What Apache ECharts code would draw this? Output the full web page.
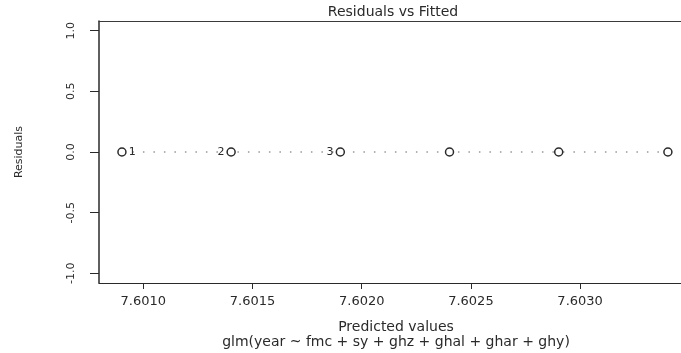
<!DOCTYPE html>
<html>
<head>
<meta charset="utf-8">
<script src="https://cdn.jsdelivr.net/npm/echarts@6/dist/echarts.min.js"></script>
<style>
  html, body { margin: 0; padding: 0; background: #fff; }
  #chart { width: 681px; height: 353px; }
</style>
</head>
<body>
<div id="chart"></div>
<script>
// residuals vs fitted (glm), six observations
const fitted = [7.600902, 7.601402, 7.601902, 7.602402, 7.602902, 7.603402]
const residuals = [0, 0, 0, 0, 0, 0]
const pointIds = ['1', '2', '3', '', '', '']
const xTicks = [7.6010, 7.6015, 7.6020, 7.6025, 7.6030]
const yTicks = [-1.0, -0.5, 0.0, 0.5, 1.0]

const ink = '#2a2a2a'
const fontFam = 'DejaVu Sans'

const chart = echarts.init(document.getElementById('chart'))

const points = fitted.map((x, i) => {
  const item = { value: [x, residuals[i]] }
  if (pointIds[i]) {
    item.label = {
      show: true,
      formatter: pointIds[i],
      position: i === 0 ? 'right' : 'left',
      distance: 2,
      color: ink,
      fontSize: 11,
      fontFamily: fontFam
    }
  }
  return item
})

const option = {
  animation: false,
  backgroundColor: '#fff',
  // plot box runs past the right edge of the picture, so only top, left, bottom show
  grid: { left: 99, top: 21, width: 582, height: 262 },
  xAxis: [
    {
      type: 'value',
      min: 7.600797,
      max: 7.603462,
      splitLine: { show: false },
      axisLine: { onZero: false, lineStyle: { color: ink, width: 1 } },
      axisTick: { customValues: xTicks, length: 6, lineStyle: { color: ink } },
      axisLabel: {
        customValues: xTicks,
        formatter: v => v.toFixed(4),
        margin: 12,
        color: ink,
        fontSize: 13,
        fontFamily: fontFam
      }
    },
    {
      type: 'value',
      position: 'top',
      min: 7.600797,
      max: 7.603462,
      splitLine: { show: false },
      axisLine: { onZero: false, lineStyle: { color: '#3a3a3a', width: 1 } },
      axisTick: { show: false },
      axisLabel: { show: false }
    }
  ],
  yAxis: {
    type: 'value',
    min: -1.08,
    max: 1.08,
    splitLine: { show: false },
    axisLine: { onZero: false, lineStyle: { color: ink, width: 1.5 } },
    axisTick: { customValues: yTicks, length: 9, lineStyle: { color: ink } },
    axisLabel: {
      customValues: yTicks,
      formatter: v => v.toFixed(1),
      rotate: 90,
      margin: 22,
      color: ink,
      fontSize: 11,
      fontFamily: fontFam
    }
  },
  series: [
    {
      type: 'line',
      xAxisIndex: 0,
      data: points,
      symbol: 'circle',
      symbolSize: 8,
      itemStyle: { color: '#fff', borderColor: ink, borderWidth: 1.5 },
      lineStyle: { color: '#666', width: 1.2, type: [1.5, 9] }
    }
  ],
  graphic: [
    {
      type: 'text', x: 393, y: 12,
      style: { text: 'Residuals vs Fitted', fill: ink, fontSize: 14, fontFamily: fontFam, align: 'center', verticalAlign: 'middle' }
    },
    {
      type: 'text', x: 396, y: 327,
      style: { text: 'Predicted values', fill: ink, fontSize: 14, fontFamily: fontFam, align: 'center', verticalAlign: 'middle' }
    },
    {
      type: 'text', x: 396, y: 342,
      style: { text: 'glm(year ~ fmc + sy + ghz + ghal + ghar + ghy)', fill: ink, fontSize: 14, fontFamily: fontFam, align: 'center', verticalAlign: 'middle' }
    },
    {
      type: 'text', x: 19, y: 152, rotation: Math.PI / 2,
      style: { text: 'Residuals', fill: ink, fontSize: 11, fontFamily: fontFam, align: 'center', verticalAlign: 'middle' }
    }
  ]
}

chart.setOption(option)
</script>
</body>
</html>
